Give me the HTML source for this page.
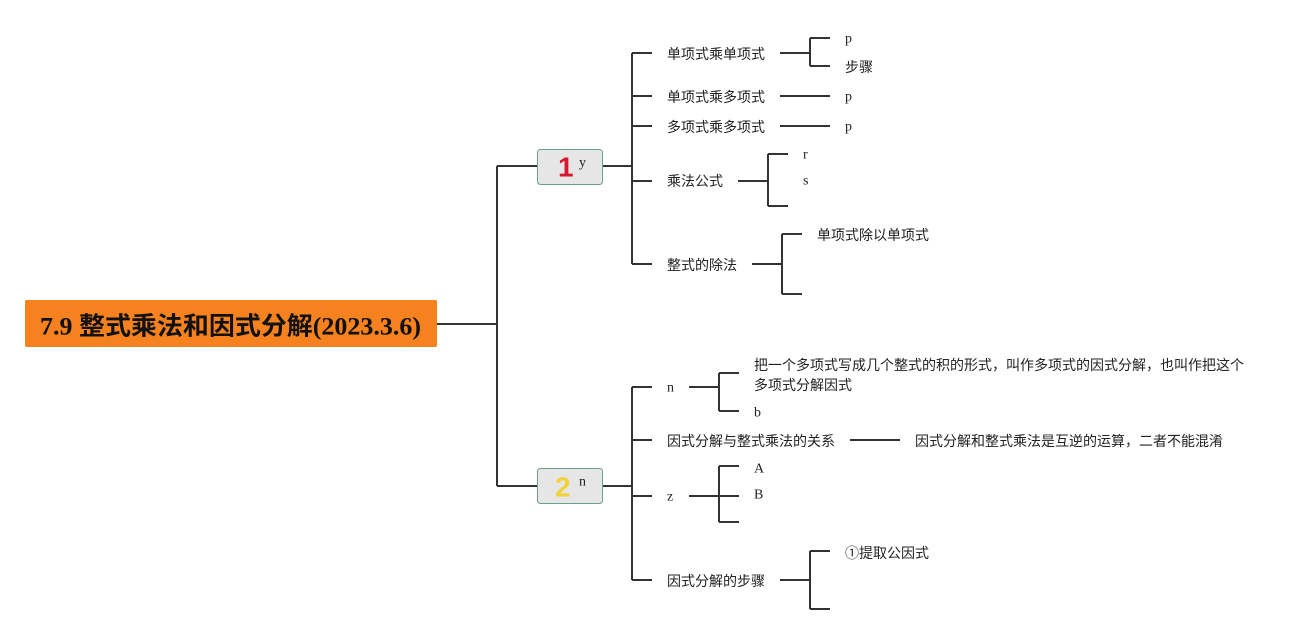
<!DOCTYPE html>
<html><head><meta charset="utf-8"><style>
html,body{margin:0;padding:0;background:#fff;}
svg{display:block;}
text{font-family:"Liberation Serif","Noto Sans CJK SC",serif;font-size:14px;fill:#222;dominant-baseline:central;}
.c{font-family:"Liberation Sans","Noto Sans CJK SC",sans-serif;}
</style></head><body>
<svg width="1314" height="635" viewBox="0 0 1314 635">
<g stroke="#333" stroke-width="2" fill="none">
<path d="M437 324H497M497 166V486M497 166H537M497 486H537"/>
<path d="M602 166H632M632 53V264M632 53H652M632 96H652M632 126H652M632 181H652M632 264H652"/>
<path d="M780 53H810M810 38V66M810 38H830M810 66H830"/>
<path d="M780 96H830M780 126H830"/>
<path d="M738 181H768M768 154V206M768 154H788M768 206H788"/>
<path d="M752 264H782M782 234V294M782 234H802M782 294H802"/>
<path d="M602 486H632M632 387V580M632 387H652M632 440H652M632 496H652M632 580H652"/>
<path d="M689 387H719M719 373V411M719 373H739M719 411H739"/>
<path d="M850 440H900"/>
<path d="M689 496H739M719 466V522M719 466H739M719 522H739"/>
<path d="M780 580H810M810 551V609M810 551H830M810 609H830"/>
</g>
<rect x="25" y="300" width="412" height="47" rx="2" fill="#f5821f"/>
<text x="40" y="327" textLength="381" lengthAdjust="spacingAndGlyphs" style="font-size:25px;font-weight:bold;fill:#111;font-family:'Liberation Serif','Noto Sans CJK SC',serif">7.9 整式乘法和因式分解(2023.3.6)</text>
<rect x="537.5" y="149.5" width="65" height="35" rx="3" fill="#e6e6e6" stroke="#6aa090"/>
<text x="558" y="167" style="font-size:28px;font-weight:bold;fill:#d8182f;font-family:'Liberation Sans',sans-serif">1</text>
<text x="579" y="163">y</text>
<rect x="537.5" y="468.5" width="65" height="35" rx="3" fill="#e6e6e6" stroke="#6aa090"/>
<text x="555" y="487" style="font-size:28px;font-weight:bold;fill:#f2d23a;font-family:'Liberation Sans',sans-serif">2</text>
<text x="579" y="482">n</text>
<text class="c" x="667" y="54">单项式乘单项式</text>
<text x="845" y="39">p</text>
<text class="c" x="845" y="67">步骤</text>
<text class="c" x="667" y="97">单项式乘多项式</text>
<text x="845" y="97">p</text>
<text class="c" x="667" y="127">多项式乘多项式</text>
<text x="845" y="127">p</text>
<text class="c" x="667" y="181">乘法公式</text>
<text x="803" y="155">r</text>
<text x="803" y="181">s</text>
<text class="c" x="667" y="265">整式的除法</text>
<text class="c" x="817" y="235">单项式除以单项式</text>
<text x="667" y="388">n</text>
<text class="c" x="754" y="365">把一个多项式写成几个整式的积的形式，叫作多项式的因式分解，也叫作把这个</text>
<text class="c" x="754" y="385">多项式分解因式</text>
<text x="754" y="413">b</text>
<text class="c" x="667" y="441">因式分解与整式乘法的关系</text>
<text class="c" x="915" y="441">因式分解和整式乘法是互逆的运算，二者不能混淆</text>
<text x="667" y="497">z</text>
<text x="754" y="469">A</text>
<text x="754" y="495">B</text>
<text class="c" x="667" y="581">因式分解的步骤</text>
<text class="c" x="845" y="553">①提取公因式</text>
</svg>
</body></html>
